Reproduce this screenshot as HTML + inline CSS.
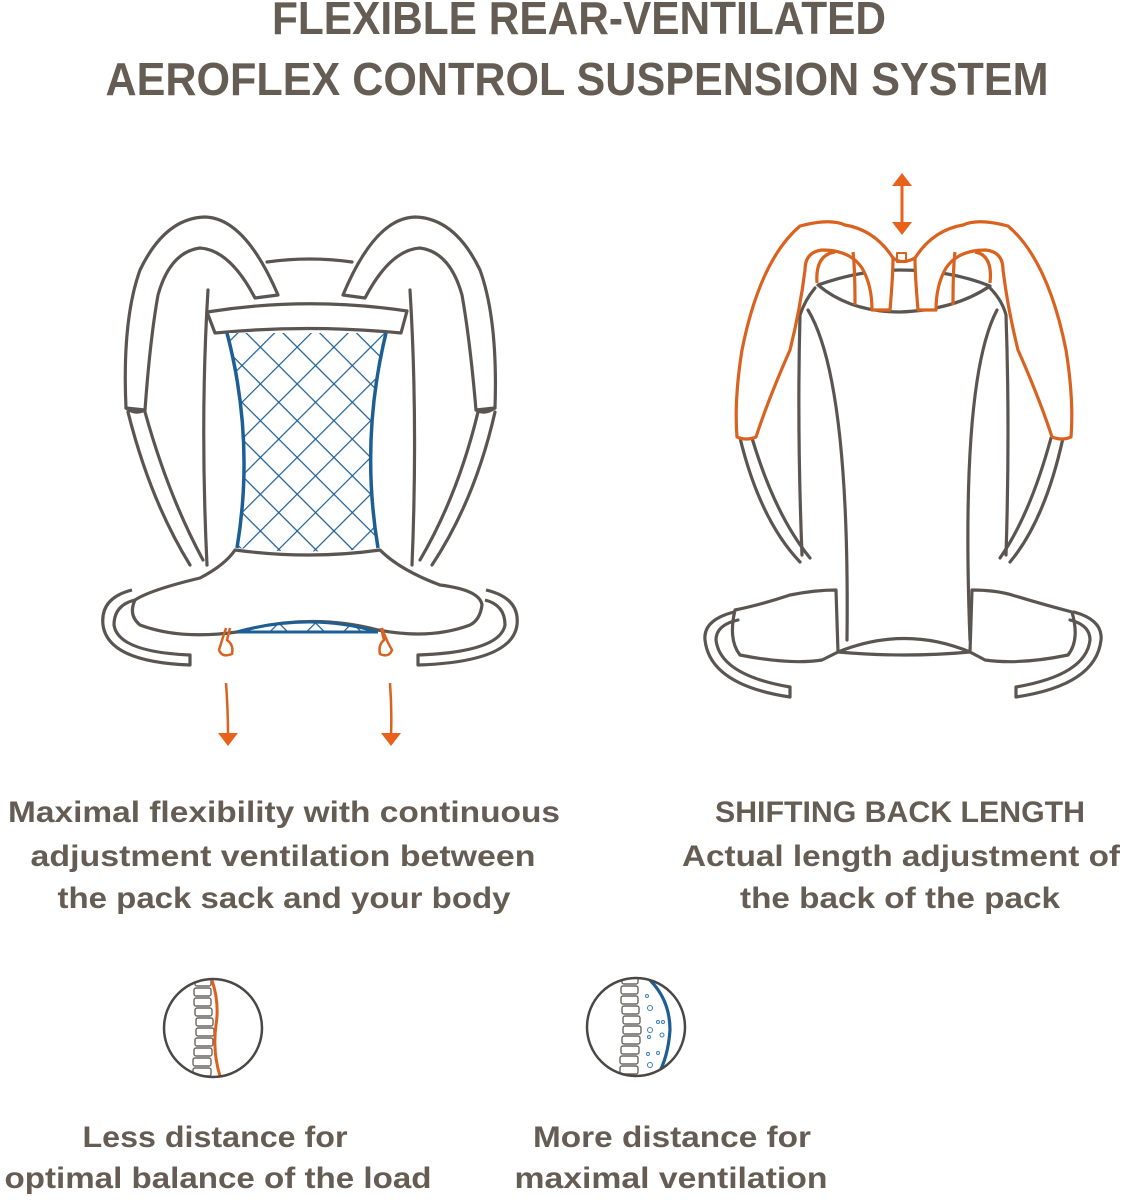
<!DOCTYPE html>
<html><head><meta charset="utf-8"><style>
html,body{margin:0;padding:0;background:#fff;}
svg{display:block}
text{font-family:"Liberation Sans",sans-serif;font-weight:bold;fill:#655d54;}
</style></head><body>
<svg width="1123" height="1200" viewBox="0 0 1123 1200" xmlns="http://www.w3.org/2000/svg">
<defs>
<pattern id="mesh" width="26" height="26" patternUnits="userSpaceOnUse" patternTransform="rotate(45 300 400)">
<rect width="26" height="26" fill="#fff"/>
<path d="M0 0H26M0 0V26" stroke="#1d5f95" stroke-width="2.4"/>
</pattern>
<clipPath id="meshclip"><path d="M227 333 L386 333 Q360 440 378 548 Q310 555 237 548 Q255 440 227 333Z"/></clipPath>
</defs>

<text x="579" y="34" font-size="46" text-anchor="middle" textLength="614" lengthAdjust="spacingAndGlyphs">FLEXIBLE REAR-VENTILATED</text>
<text x="577" y="95" font-size="46" text-anchor="middle" textLength="943" lengthAdjust="spacingAndGlyphs">AEROFLEX CONTROL SUSPENSION SYSTEM</text>

<!-- LEFT PACK -->
<g fill="#fff" stroke="#5a5550" stroke-width="3.2" stroke-linejoin="round" stroke-linecap="round">
 <path d="M128 412 Q150 500 190 565 M145 412 Q168 495 203 560"/>
 <path d="M495 412 Q475 500 432 565 M478 412 Q458 495 420 560"/>
 <path d="M208 290 Q200 420 207 565 M410 290 Q418 420 412 565"/>
 <path d="M267 262 Q310 256 352 262"/>
 <path d="M126 408 Q122 320 140 270 Q165 218 205 217 Q245 218 278 295 L255 298 Q230 250 200 248 Q170 252 158 295 Q150 340 145 410 Z"/>
 <path d="M495 408 Q498 320 480 270 Q455 218 415 217 Q375 218 343 295 L365 298 Q390 250 420 248 Q450 252 462 295 Q470 340 476 410 Z"/>
 <path d="M126 408 Q135 415 145 410 M495 408 Q485 415 476 410" fill="none"/>
 <path d="M207 312 Q307 296 407 311 L401 333 Q308 324 215 333 Z"/>
</g>
<rect x="220" y="330" width="170" height="230" fill="url(#mesh)" clip-path="url(#meshclip)"/>
<path d="M227 333 Q255 440 237 548 M386 333 Q360 440 378 548" fill="none" stroke="#1d5f95" stroke-width="3.5"/>
<g fill="#fff" stroke="#5a5550" stroke-width="3.2" stroke-linejoin="round">
 <path d="M132 590 Q100 598 103 625 Q108 662 190 665 L190 655 Q118 652 114 625 Q114 605 135 600"/>
 <path d="M486 590 Q520 598 517 625 Q512 662 418 665 L418 655 Q500 652 505 625 Q505 605 485 600"/>
 <path d="M135 600 Q150 590 200 578 Q225 565 235 550 Q310 560 380 550 Q400 570 440 585 Q480 590 482 605 Q480 620 470 625 Q430 640 378 630 Q310 612 237 632 Q180 640 140 625 Q128 615 135 600 Z"/>
</g>
<clipPath id="lm"><path d="M237 632 Q310 612 378 632 Z"/></clipPath>
<rect x="230" y="600" width="160" height="40" fill="url(#mesh)" clip-path="url(#lm)"/>
<path d="M237 632 Q310 612 378 632 M237 632 L378 632" fill="none" stroke="#1d5f95" stroke-width="3"/>
<g fill="none" stroke="#d9621f" stroke-width="2.5">
 <path d="M226 628 Q222 640 219 650 Q222 658 232 654 Q234 645 227 640 L230 628"/>
 <path d="M382 628 Q386 640 392 650 Q389 658 380 654 Q378 645 384 640 L381 628"/>
 <path d="M226 683 Q228 710 228 735 M390 683 Q392 710 391 735"/>
</g>
<path d="M218 733 L238 733 L228 746Z M381 733 L401 733 L391 746Z" fill="#e8621c"/>

<!-- RIGHT PACK -->
<g fill="#fff" stroke="#5a5550" stroke-width="3.2" stroke-linejoin="round" stroke-linecap="round">
 <path d="M740 438 Q760 520 800 562 M752 438 Q775 515 810 558"/>
 <path d="M1063 438 Q1045 520 1010 562 M1051 438 Q1030 515 1000 558"/>
 <path d="M815 288 Q805 300 800 315 Q797 430 802 555 M990 288 Q1002 300 1006 315 Q1010 430 1006 555"/>
 <path d="M818 285 Q860 270 900 270 Q950 270 990 286 Q955 310 900 312 Q850 312 818 285Z"/>
 <path d="M808 310 Q850 380 847 640 M997 310 Q960 380 970 640"/>
 <path d="M790 595 Q760 605 735 610 Q728 640 740 655 Q790 665 822 660 L838 652 L836 590 Q815 590 790 595Z"/>
 <path d="M1012 595 Q1045 605 1072 612 Q1080 640 1068 655 Q1020 665 985 660 L970 652 L972 590 Q995 590 1012 595Z"/>
 <path d="M838 652 Q905 625 970 652 Q905 658 838 652Z"/>
 <path d="M734 612 Q703 620 705 640 Q710 685 790 697 L790 687 Q720 675 716 640 Q716 625 738 620" fill="none"/>
 <path d="M1074 612 Q1103 620 1101 640 Q1096 685 1016 697 L1016 687 Q1086 675 1090 640 Q1090 625 1070 620" fill="none"/>
</g>
<g fill="#fff" stroke="#d9621f" stroke-width="3.2" stroke-linejoin="round">
 <path d="M737 437 Q734 400 742 350 Q760 260 800 226 Q830 218 845 225 Q875 230 893 258 Q893 275 890 310 L872 310 Q872 285 862 268 Q850 250 822 250 Q805 252 805 270 Q800 310 790 350 Q768 400 756 437 Q746 441 737 437Z"/>
 <path d="M1071 437 Q1074 400 1066 350 Q1048 260 1008 226 Q978 218 963 225 Q933 230 915 258 Q915 275 918 310 L936 310 Q936 285 946 268 Q958 250 986 250 Q1003 252 1003 270 Q1008 310 1018 350 Q1040 400 1052 437 Q1062 441 1071 437Z"/>
 <path d="M817 283 Q815 255 835 252 M853 252 Q855 268 855 305 M990 283 Q993 255 975 252 M955 252 Q953 268 953 305" fill="none"/>
 <rect x="897" y="253" width="9" height="9" stroke-width="2"/>
 <path d="M893 258 Q902 265 915 258" fill="none"/>
</g>
<path d="M902 185 L902 224" stroke="#e8621c" stroke-width="3"/>
<path d="M892 186 L912 186 L902 173Z M892 222 L912 222 L902 235Z" fill="#e8621c"/>

<g font-size="30" text-anchor="middle">
<text x="284" y="822" textLength="552" lengthAdjust="spacingAndGlyphs">Maximal flexibility with continuous</text>
<text x="283" y="866" textLength="505" lengthAdjust="spacingAndGlyphs">adjustment ventilation between</text>
<text x="284" y="908" textLength="453" lengthAdjust="spacingAndGlyphs">the pack sack and your body</text>
<text x="900" y="822" textLength="370" lengthAdjust="spacingAndGlyphs">SHIFTING BACK LENGTH</text>
<text x="901" y="866" textLength="438" lengthAdjust="spacingAndGlyphs">Actual length adjustment of</text>
<text x="900" y="908" textLength="320" lengthAdjust="spacingAndGlyphs">the back of the pack</text>
<text x="215" y="1147" textLength="265" lengthAdjust="spacingAndGlyphs">Less distance for</text>
<text x="218" y="1188" textLength="427" lengthAdjust="spacingAndGlyphs">optimal balance of the load</text>
<text x="672" y="1147" textLength="278" lengthAdjust="spacingAndGlyphs">More distance for</text>
<text x="671" y="1188" textLength="313" lengthAdjust="spacingAndGlyphs">maximal ventilation</text>
</g>

<defs>
<clipPath id="c1"><circle cx="213" cy="1028" r="49"/></clipPath>
<clipPath id="c2"><circle cx="636" cy="1027" r="49"/></clipPath>
</defs>
<g clip-path="url(#c1)">
 <g fill="#fff" stroke="#6a6560" stroke-width="1.4">
  <rect x="195" y="978" width="16" height="8" rx="2"/><rect x="194" y="988" width="17" height="8" rx="2"/>
  <rect x="194" y="998" width="17" height="8" rx="2"/><rect x="195" y="1008" width="17" height="8" rx="2"/>
  <rect x="196" y="1018" width="17" height="8" rx="2"/><rect x="196" y="1028" width="18" height="8" rx="2"/>
  <rect x="195" y="1038" width="18" height="8" rx="2"/><rect x="194" y="1048" width="18" height="8" rx="2"/>
  <rect x="193" y="1058" width="18" height="8" rx="2"/><rect x="193" y="1068" width="18" height="8" rx="2"/>
 </g>
 <path d="M210 975 Q220 1000 216 1025 Q212 1055 222 1082" fill="none" stroke="#d9621f" stroke-width="3"/>
</g>
<circle cx="213" cy="1028" r="49" fill="none" stroke="#4a4745" stroke-width="2.5"/>
<g clip-path="url(#c2)">
 <g fill="#fff" stroke="#6a6560" stroke-width="1.4">
  <rect x="622" y="976" width="16" height="8" rx="2"/><rect x="621" y="986" width="17" height="8" rx="2"/>
  <rect x="621" y="996" width="17" height="8" rx="2"/><rect x="622" y="1006" width="17" height="8" rx="2"/>
  <rect x="623" y="1016" width="17" height="8" rx="2"/><rect x="623" y="1026" width="18" height="8" rx="2"/>
  <rect x="622" y="1036" width="18" height="8" rx="2"/><rect x="621" y="1046" width="18" height="8" rx="2"/>
  <rect x="620" y="1056" width="18" height="8" rx="2"/><rect x="620" y="1066" width="18" height="8" rx="2"/>
 </g>
 <path d="M642 973 Q670 995 670 1030 Q668 1060 655 1080" fill="none" stroke="#1d5f95" stroke-width="3.2"/>
 <g fill="none" stroke="#3c7fb5" stroke-width="1">
  <circle cx="647" cy="996" r="1.5"/><circle cx="650" cy="1008" r="2.5"/><circle cx="658" cy="1022" r="1.5"/><circle cx="663" cy="1022" r="1.5"/>
  <circle cx="650" cy="1030" r="2.5"/><circle cx="649" cy="1037" r="1.5"/><circle cx="662" cy="1035" r="2"/><circle cx="648" cy="1054" r="1.5"/>
  <circle cx="658" cy="1053" r="1.5"/><circle cx="650" cy="1065" r="2.5"/>
 </g>
</g>
<circle cx="636" cy="1027" r="49" fill="none" stroke="#4a4745" stroke-width="2.5"/>
</svg>
</body></html>
